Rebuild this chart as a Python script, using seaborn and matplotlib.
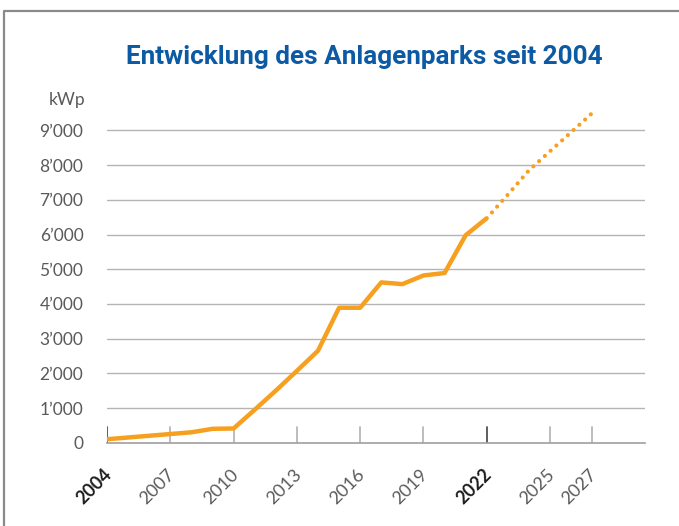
import matplotlib
matplotlib.use("Agg")
import matplotlib.pyplot as plt
import matplotlib.transforms as mtransforms
from matplotlib.lines import Line2D
import seaborn as sns
import pandas as pd

# ---- data ----
years_actual = [2004, 2005, 2006, 2007, 2008, 2009, 2010, 2011, 2012, 2013,
                2014, 2015, 2016, 2017, 2018, 2019, 2020, 2021, 2022]
kwp_actual = [100, 150, 200, 250, 300, 400, 410, 950, 1500, 2070,
              2650, 3890, 3890, 4620, 4570, 4820, 4890, 5980, 6470]
years_forecast = [2022, 2023, 2024, 2025, 2026, 2027]
kwp_forecast = [6470, 7150, 7850, 8400, 8950, 9500]
xtick_years = [2004, 2007, 2010, 2013, 2016, 2019, 2022, 2025, 2027]
bold_years = [2004, 2022]
ytick_values = [0, 1000, 2000, 3000, 4000, 5000, 6000, 7000, 8000, 9000]
ytick_labels = ["0", "1’000", "2’000", "3’000", "4’000", "5’000",
                "6’000", "7’000", "8’000", "9’000"]
title = "Entwicklung des Anlagenparks seit 2004"
unit = "kWp"

sns.set_theme(style="white")
plt.rcParams['font.family'] = ['Lato', 'DejaVu Sans']

ORANGE = "#f7a020"
BLUE = "#0d5aa4"
GRID = "#b4b4b4"
LABEL = "#5a5a5a"

fig = plt.figure(figsize=(6.79, 5.26), dpi=100)
ax_h = 442.7 - 109.6
ax = fig.add_axes([107/679, 1 - 442.7/526, (645 - 107)/679, ax_h/526])

df_a = pd.DataFrame({"Jahr": years_actual, "kWp": kwp_actual})
df_f = pd.DataFrame({"Jahr": years_forecast, "kWp": kwp_forecast})

sns.lineplot(data=df_a, x="Jahr", y="kWp", ax=ax, color=ORANGE, linewidth=3.2,
             solid_capstyle="butt", clip_on=False, zorder=5)
sns.lineplot(data=df_f, x="Jahr", y="kWp", ax=ax, color=ORANGE, linewidth=3.0,
             clip_on=False, zorder=5)
dotted = ax.lines[-1]
dotted.set_linestyle((0, (0.01, 1.85)))
dotted.set_dash_capstyle("round")

ax.set_xlim(2004, 2029.5)
ax.set_ylim(0, 9600)

# grid lines
for v in ytick_values[1:]:
    ax.axhline(v, color=GRID, linewidth=1.0, zorder=1)

for s in ["top", "right", "left"]:
    ax.spines[s].set_visible(False)
ax.spines["bottom"].set_color("#a0a0a0")
ax.spines["bottom"].set_linewidth(1.2)

ax.set_yticks(ytick_values)
ax.set_yticklabels(ytick_labels)
ax.tick_params(axis="y", left=False, length=0, pad=17, labelsize=12.5,
               labelcolor=LABEL)

ax.set_xticks(xtick_years)
ax.set_xticklabels([str(y) for y in xtick_years])
ax.tick_params(axis="x", bottom=False, length=0, pad=21, labelsize=13)

# tick marks drawn inside the axes (dark for highlighted years)
tick_frac = 16 / ax_h
for y in xtick_years:
    col = "#505050" if y in bold_years else "#b8b8b8"
    ax.axvline(y, ymin=0, ymax=tick_frac, color=col, linewidth=1.3, zorder=2)

offset = mtransforms.ScaledTranslation(2/100, 0, fig.dpi_scale_trans)
for lab, y in zip(ax.get_xticklabels(), xtick_years):
    lab.set_rotation(45)
    lab.set_rotation_mode("anchor")
    lab.set_ha("right")
    lab.set_va("center")
    lab.set_transform(lab.get_transform() + offset)
    if y in bold_years:
        lab.set_fontweight("bold")
        lab.set_color("#1e1e1e")
    else:
        lab.set_color(LABEL)

ax.set_xlabel("")
ax.set_ylabel("")

ax.annotate(unit, xy=(0, 9880), xycoords=("axes fraction", "data"),
            xytext=(-22, 0), textcoords="offset pixels", ha="right",
            va="center", fontsize=12.5, color=LABEL, annotation_clip=False)

fig.text(364/679, 1 - 57/526, title, ha="center", va="center",
         fontsize=18.8, fontweight="bold", color=BLUE,
         family=["Roboto", "DejaVu Sans"])

# frame (top and left border)
fig.add_artist(Line2D([4/679, 4/679, 1.0], [0.0, 1 - 11/526, 1 - 11/526],
                      transform=fig.transFigure, color="#8a8a8a", linewidth=1.6))

fig.savefig("out.png", dpi=100)
